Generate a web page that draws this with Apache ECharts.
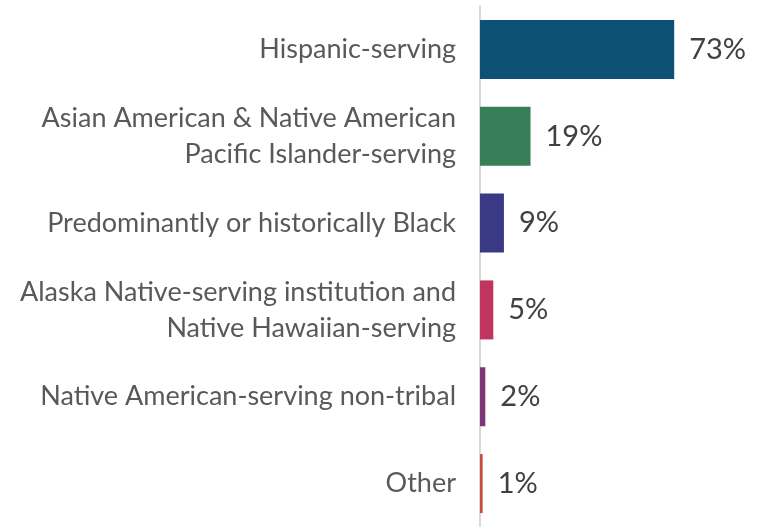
<!DOCTYPE html>
<html>
<head>
<meta charset="utf-8">
<script src="https://cdn.jsdelivr.net/npm/echarts@6/dist/echarts.min.js"></script>
<style>html,body{margin:0;padding:0;background:#fff}#c{width:761px;height:527px}</style>
</head>
<body>
<div id="c"></div>
<script>
const categories = [
  "Hispanic-serving",
  "Asian American & Native American\nPacific Islander-serving",
  "Predominantly or historically Black",
  "Alaska Native-serving institution and\nNative Hawaiian-serving",
  "Native American-serving non-tribal",
  "Other"
];
const values = [73, 19, 9, 5, 2, 1];
const colors = ["#0e5177", "#367f59", "#3a3986", "#c1345f", "#7e3677", "#c4503c"];

const chart = echarts.init(document.getElementById('c'));
chart.setOption({
  animation: false,
  grid: { left: 480, top: 6, width: 266, height: 524, containLabel: false },
  xAxis: { type: 'value', min: 0, max: 100, show: false },
  yAxis: {
    type: 'category', data: categories, inverse: true,
    axisLine: { show: true, lineStyle: { color: '#d9d9d9', width: 2 } },
    axisTick: { show: false },
    axisLabel: { color: '#595959', fontFamily: 'Lato', fontSize: 27, lineHeight: 36, margin: 24, align: 'right', padding: [0, 0, 12, 0] }
  },
  series: [{
    type: 'bar',
    barWidth: 59,
    data: values.map((v, i) => ({ value: v, itemStyle: { color: colors[i] } })),
    label: {
      show: true, position: 'right', distance: 15,
      formatter: p => p.value + '%',
      color: '#404040', fontFamily: 'Lato', fontSize: 29
    }
  }]
});
</script>
</body>
</html>
